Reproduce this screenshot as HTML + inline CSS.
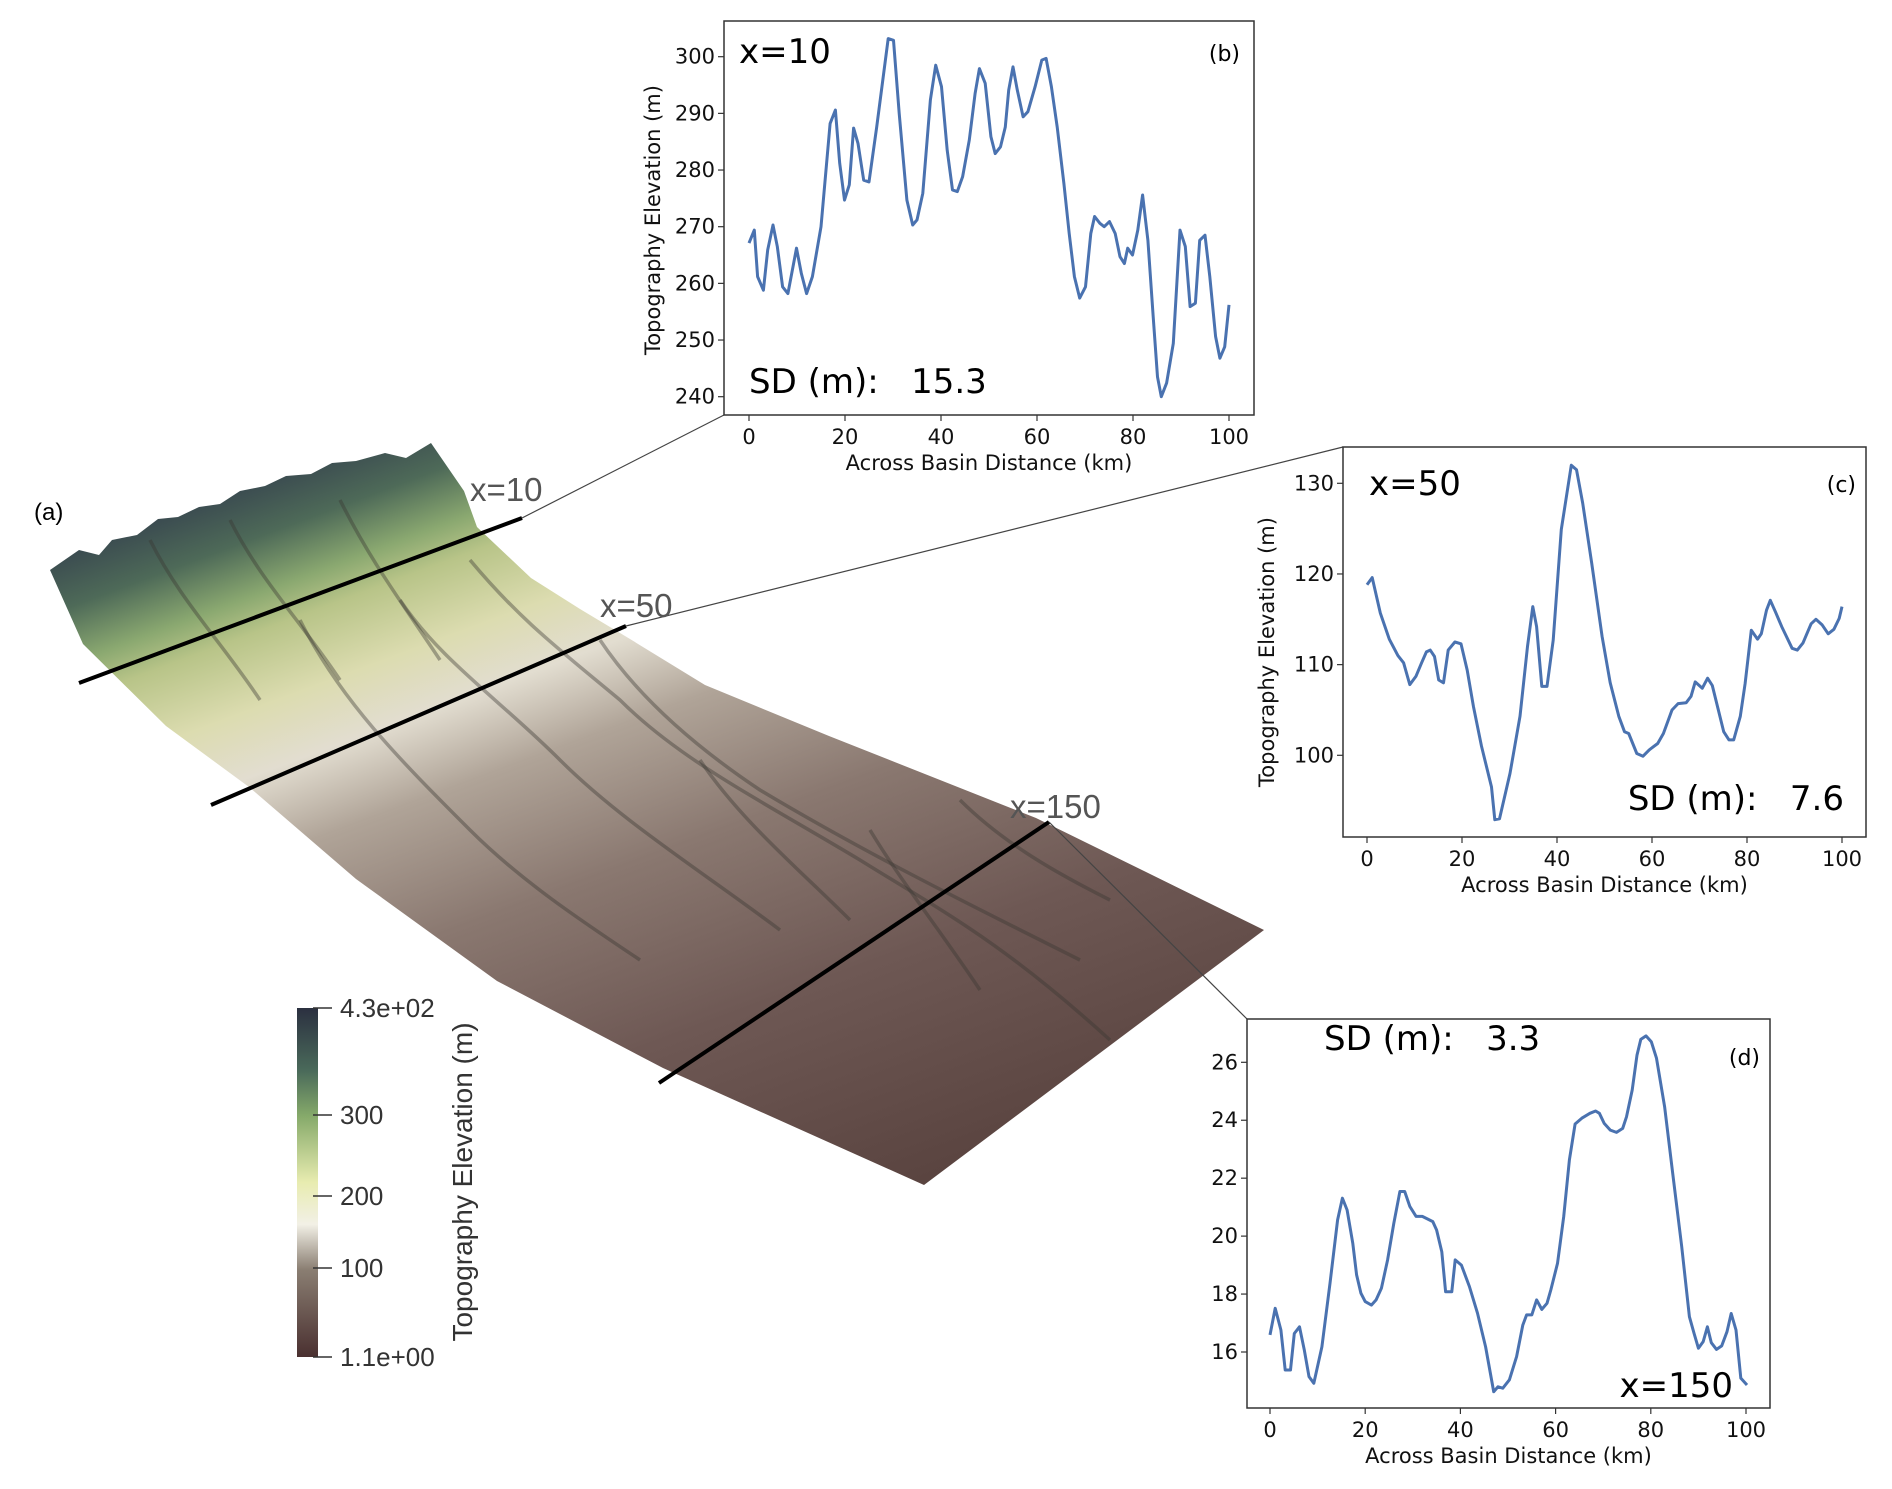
<!DOCTYPE html>
<html><head><meta charset="utf-8"><style>
html,body{margin:0;padding:0;background:#fff;}
svg{display:block;font-family:"DejaVu Sans","Liberation Sans",sans-serif;}
</style></head><body>
<svg id="fig" width="1892" height="1489" viewBox="0 0 1892 1489" xmlns="http://www.w3.org/2000/svg">
<defs>
<linearGradient id="terr" gradientUnits="userSpaceOnUse" x1="188" y1="506" x2="499" y2="1340">
<stop offset="0" stop-color="#3a4a50"/><stop offset="0.06" stop-color="#4e6a58"/>
<stop offset="0.12" stop-color="#8aa870"/><stop offset="0.16" stop-color="#b8c488"/>
<stop offset="0.24" stop-color="#dcdcb0"/><stop offset="0.31" stop-color="#e2ddd0"/>
<stop offset="0.4" stop-color="#b0a498"/><stop offset="0.55" stop-color="#8a7870"/>
<stop offset="0.75" stop-color="#6e5854"/><stop offset="1" stop-color="#5a4440"/>
</linearGradient>
<linearGradient id="cbar" x1="0" y1="0" x2="0" y2="1">
<stop offset="0" stop-color="#2b3040"/><stop offset="0.18" stop-color="#4a6a5a"/>
<stop offset="0.31" stop-color="#86aa6a"/><stop offset="0.5" stop-color="#e8ecb0"/>
<stop offset="0.62" stop-color="#f2f0e6"/><stop offset="0.75" stop-color="#8a7e72"/>
<stop offset="1" stop-color="#4a3030"/>
</linearGradient>
</defs>
<text x="34" y="520" font-size="24" font-family="Liberation Sans,sans-serif">(a)</text>
<g>
<polygon fill="url(#terr)" points="50,570 79,550 99,555 112,540 137,535 158,519 178,517 199,507 220,504 240,491 265,486 286,476 311,474 332,463 356,461 385,453 406,458 431,443 464,491 477,527 531,578 580,609 630,639 705,685 829,736 1036,818 1264,930 924,1185 663,1068 497,981 356,879 249,787 166,726 83,644"/>
<g fill="none" stroke="#3a3632" stroke-opacity="0.4" stroke-width="3.5">
<path d="M470,560 C520,620 560,650 620,700 C680,760 760,800 860,860 C940,910 1000,940 1110,1040"/>
<path d="M400,600 C440,660 500,700 560,760 C620,820 700,870 780,930"/>
<path d="M600,640 C640,700 700,750 760,790 C860,850 960,900 1080,960"/>
<path d="M300,620 C340,700 400,760 470,830 C520,880 580,920 640,960"/>
<path d="M870,830 C900,880 940,930 980,990"/>
<path d="M150,540 C180,600 220,640 260,700"/>
<path d="M230,520 C260,580 300,620 340,680"/>
<path d="M340,500 C370,560 400,600 440,660"/>
<path d="M700,760 C740,820 800,870 850,920"/>
<path d="M960,800 C1000,840 1050,870 1110,900"/>
</g>
</g>
<g stroke="#000" stroke-width="4">
<line x1="79" y1="683" x2="522" y2="518"/>
<line x1="211" y1="805" x2="626" y2="626"/>
<line x1="659" y1="1083" x2="1049" y2="822"/>
</g>
<g stroke="#444" stroke-width="1.2">
<line x1="522" y1="518" x2="724" y2="415"/>
<line x1="626" y1="626" x2="1343" y2="447"/>
<line x1="1049" y1="822" x2="1247" y2="1019"/>
</g>
<g fill="#555" font-size="33" font-family="Liberation Sans,sans-serif">
<text x="470" y="501">x=10</text>
<text x="600" y="617">x=50</text>
<text x="1010" y="818">x=150</text>
</g>
<g font-family="Liberation Sans,sans-serif" fill="#333">
<rect x="297" y="1008" width="21" height="349" fill="url(#cbar)"/>
<g stroke="#333" stroke-width="1.5">
<line x1="313" y1="1008" x2="332" y2="1008"/><line x1="313" y1="1115" x2="332" y2="1115"/>
<line x1="313" y1="1196" x2="332" y2="1196"/><line x1="313" y1="1268" x2="332" y2="1268"/>
<line x1="313" y1="1357" x2="332" y2="1357"/></g>
<g font-size="26">
<text x="340" y="1017">4.3e+02</text><text x="340" y="1124">300</text>
<text x="340" y="1205">200</text><text x="340" y="1277">100</text>
<text x="340" y="1366">1.1e+00</text></g>
<text transform="translate(472,1182) rotate(-90)" text-anchor="middle" font-size="28">Topography Elevation (m)</text>
</g>
<g id="chartB"></g>
<g id="chartC"></g>
<g id="chartD"></g>
</svg>
<script>
const bX=[0,1.1,1.8,3.0,3.9,5.0,5.9,7.0,8.1,9.9,10.9,12.0,13.2,15.0,16.9,18.0,18.9,19.9,20.9,21.8,22.7,23.9,25.0,26.6,29.0,30.1,31.3,32.9,34.1,35.0,36.2,37.8,38.9,40.1,41.3,42.4,43.4,44.5,45.9,47.1,48.0,49.2,50.4,51.3,52.4,53.4,54.1,55.0,55.9,57.1,58.1,59.6,61.0,61.9,63.0,64.2,65.6,66.7,67.8,68.9,70.1,71.2,72.0,73.1,74.0,75.1,76.3,77.3,78.2,78.9,79.9,81.0,82.0,83.1,84.2,85.1,85.9,87.0,88.4,89.8,90.9,91.9,93.0,93.9,95.0,96.0,97.2,98.1,99.1,100];
const bY=[267.1,269.4,261.2,258.8,265.9,270.3,266.5,259.4,258.2,266.2,261.8,258.2,261.2,270,288.2,290.6,281.2,274.7,277.4,287.4,284.7,278.2,277.9,287.6,303.2,302.9,290,274.7,270.3,271.2,275.9,292.4,298.5,294.7,283.5,276.5,276.2,278.8,285.3,293.5,297.9,295.3,285.9,282.9,284.1,287.6,294.1,298.2,294.1,289.4,290.3,294.7,299.4,299.7,294.7,287.6,277.6,268.8,261.2,257.4,259.4,268.8,271.8,270.6,270,270.9,268.8,264.7,263.5,266.2,265,269.4,275.6,267.6,254.1,243.5,240,242.4,249.4,269.4,266.5,255.9,256.5,267.6,268.5,261.2,250.6,246.8,248.8,256.2];
const cX=[0,1.1,2.8,4.7,6.5,7.7,9.0,10.3,11.5,12.5,13.3,14.2,15.1,16.1,17.1,18.5,19.8,21.1,22.4,24.1,26.2,26.9,27.9,30.1,32.2,33.8,34.9,35.7,36.8,37.9,39.2,40.9,43.0,44.1,45.4,47.3,49.5,51.2,53.0,54.2,55.1,56.8,58.1,59.4,61.2,62.4,64.2,65.5,67.2,68.2,69.1,70.6,71.7,72.7,75.1,76.2,77.2,78.6,79.6,80.9,82.2,83.0,84.1,84.9,86.0,87.3,89.5,90.6,91.8,93.5,94.5,95.8,97.1,98.3,99.4,100];
const cY=[118.8,119.6,115.7,112.8,111.0,110.2,107.8,108.7,110.2,111.4,111.6,110.9,108.3,108,111.6,112.5,112.3,109.4,105.4,101.0,96.5,92.9,93.0,98.0,104.3,112.0,116.4,114.2,107.6,107.6,112.7,124.9,132.0,131.5,127.8,121.2,113.1,108.0,104.3,102.6,102.4,100.2,99.9,100.6,101.3,102.4,105.0,105.7,105.8,106.5,108.1,107.4,108.5,107.7,102.6,101.7,101.7,104.3,107.9,113.8,112.8,113.4,116.0,117.1,115.8,114.2,111.8,111.6,112.4,114.5,115.0,114.4,113.4,113.9,115.1,116.4];
const dX=[0,1.1,2.3,3.2,4.3,5.1,6.2,7.2,8.2,9.2,10.9,12.6,14.2,15.2,16.2,17.4,18.2,19.1,20.0,21.3,22.3,23.4,24.7,26.0,27.3,28.3,29.4,30.7,32.0,33.1,34.2,35.0,36.1,36.9,38.2,38.9,40.2,41.9,43.6,45.3,47.0,47.9,48.9,50.3,51.8,53.1,53.9,55.0,56.0,57.1,58.2,59.0,60.4,61.7,62.9,64.1,65.5,67.2,68.4,69.2,70.2,71.5,72.8,74.1,74.9,76.1,77.1,77.9,79.0,80.1,81.2,82.9,84.6,86.5,88.1,89.1,90.0,91.0,91.9,92.7,93.8,94.9,96.0,96.9,97.9,98.9,100.2];
const dY=[16.59,17.51,16.76,15.38,15.38,16.64,16.87,16.07,15.15,14.92,16.18,18.37,20.56,21.31,20.90,19.75,18.66,18.03,17.74,17.62,17.80,18.20,19.18,20.44,21.54,21.54,21.02,20.68,20.68,20.59,20.50,20.21,19.46,18.08,18.08,19.18,19.00,18.26,17.34,16.18,14.63,14.80,14.75,15.04,15.84,16.93,17.28,17.28,17.80,17.47,17.68,18.14,19.06,20.67,22.63,23.87,24.07,24.24,24.32,24.24,23.89,23.66,23.58,23.72,24.12,25.04,26.25,26.79,26.91,26.71,26.14,24.47,22.17,19.64,17.22,16.64,16.13,16.36,16.87,16.32,16.09,16.21,16.70,17.33,16.76,15.10,14.86];
const xTicks=[0,20,40,60,80,100];
const bTicks=[240,250,260,270,280,290,300];
const cTicks=[100,110,120,130];
const dTicks=[16,18,20,22,24,26];
const NS='http://www.w3.org/2000/svg';
function mk(tag,attrs,parent,txt){const e=document.createElementNS(NS,tag);for(const k in attrs)e.setAttribute(k,attrs[k]);if(txt!==undefined)e.textContent=txt;parent.appendChild(e);return e;}
function chart(g,cfg){
  const sx=v=>cfg.x0+(v-0)/(100-0)*(cfg.x100-cfg.x0);
  const sy=v=>cfg.ya+(v-cfg.va)/(cfg.vb-cfg.va)*(cfg.yb-cfg.ya);
  const box=mk('rect',{x:cfg.L,y:cfg.T,width:cfg.R-cfg.L,height:cfg.B-cfg.T,fill:'#fff',stroke:'#333','stroke-width':1.5},g);
  
  
  cfg.xt.forEach(t=>{const x=sx(t);
    mk('line',{x1:x,y1:cfg.B,x2:x,y2:cfg.B+6,stroke:'#333','stroke-width':1.2},g);
    const tx=mk('text',{x:x,y:cfg.B+29,'text-anchor':'middle','font-size':21,fill:'#111'},g,String(t));
    
    });
  cfg.yt.forEach(t=>{const y=sy(t);
    mk('line',{x1:cfg.L,y1:y,x2:cfg.L-6,y2:y,stroke:'#333','stroke-width':1.2},g);
    const ty=mk('text',{x:cfg.L-9,y:y+7,'text-anchor':'end','font-size':21,fill:'#111'},g,String(t));
    
    });
  const d=cfg.xs.map((v,i)=>(i?'L':'M')+sx(v).toFixed(1)+','+sy(cfg.ys[i]).toFixed(1)).join(' ');
  const p=mk('path',{d:d,fill:'none',stroke:'#4a72b0','stroke-width':3,'stroke-linejoin':'round'},g);
  
  
  const xl=mk('text',{x:(cfg.L+cfg.R)/2,y:cfg.B+55,'text-anchor':'middle','font-size':21,fill:'#111'},g,'Across Basin Distance (km)');
  
  
  if(cfg.ylab){const yl=mk('text',{transform:'translate('+cfg.ylab[0]+','+cfg.ylab[1]+') rotate(-90)','text-anchor':'middle','font-size':21,fill:'#111'},g,'Topography Elevation (m)');
    
    }
  cfg.texts.forEach(t=>{const e=mk('text',{x:t[0],y:t[1],'font-size':t[2],'text-anchor':t[4]||'start',fill:'#000','xml:space':'preserve'},g,t[3]);
    e.setAttribute('style','white-space:pre');
    
    });
}
chart(document.getElementById('chartB'),{L:724,R:1254,T:21,B:415,x0:749,x100:1229,va:300,ya:56.7,vb:240,yb:396.7,xt:xTicks,yt:bTicks,xs:bX,ys:bY,ylab:[660,220],
 texts:[[739,63,34,'x=10','start','section-title'],[1240,61,22,'(b)','end','panel-b-label'],[749,393,34,'SD (m):   15.3','start','sd-annotation']]});
chart(document.getElementById('chartC'),{L:1343,R:1866,T:447,B:837,x0:1367,x100:1842,va:130,ya:483.3,vb:100,yb:755.3,xt:xTicks,yt:cTicks,xs:cX,ys:cY,ylab:[1274,652],
 texts:[[1369,495,34,'x=50','start','section-title'],[1856,492,22,'(c)','end','panel-c-label'],[1844,810,34,'SD (m):   7.6','end','sd-annotation']]});
chart(document.getElementById('chartD'),{L:1247,R:1770,T:1019,B:1408,x0:1270,x100:1746,va:26,ya:1062.3,vb:16,yb:1352,xt:xTicks,yt:dTicks,xs:dX,ys:dY,ylab:null,
 texts:[[1324,1050,34,'SD (m):   3.3','start','sd-annotation'],[1760,1065,22,'(d)','end','panel-d-label'],[1733,1397,34,'x=150','end','section-title']]});
</script>
</body></html>
